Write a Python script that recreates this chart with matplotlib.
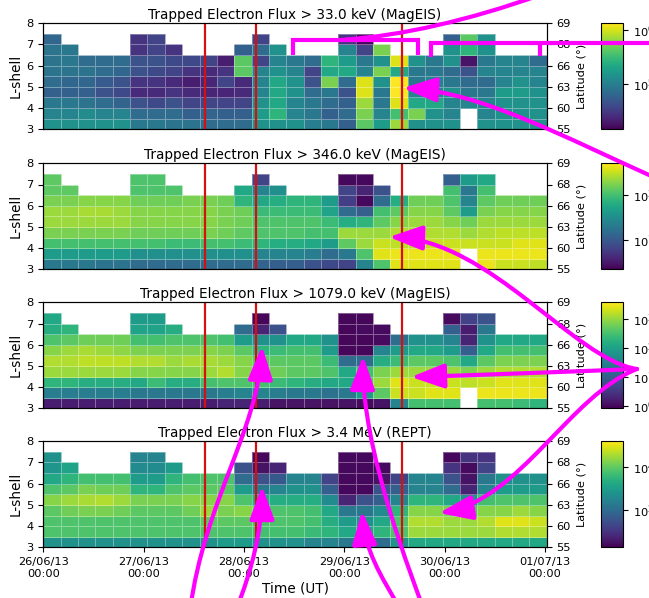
import numpy as np
import matplotlib
matplotlib.use("Agg")
import matplotlib.pyplot as plt
import matplotlib.dates as mdates
from matplotlib.colors import LogNorm
from matplotlib.path import Path
from matplotlib.patches import FancyArrowPatch, PathPatch
from datetime import datetime

nan = np.nan

# time binning: 29 bins from 26/06/13 00:00
t_start = datetime(2013, 6, 26)
t_stop = datetime(2013, 7, 1, 0, 25)
n_bins = 29
l_edges = np.arange(3.0, 8.0, 0.5)

# storm / event markers
events = [datetime(2013, 6, 27, 14, 40), datetime(2013, 6, 28, 2, 50), datetime(2013, 6, 29, 13, 45)]

titles = ["Trapped Electron Flux > 33.0 keV (MagEIS)",
          "Trapped Electron Flux > 346.0 keV (MagEIS)",
          "Trapped Electron Flux > 1079.0 keV (MagEIS)",
          "Trapped Electron Flux > 3.4 MeV (REPT)"]

# log10 flux, rows from L=3.0 upwards, one column per time bin
log_flux_33kev = np.array([
    [5.15,5.15,5.15,5.15,5.15,4.95,4.95,4.91,4.91,4.85,4.85,4.85,5.15,5.15,5.15,4.99,4.95,4.76,5.63,5.24,5.83,5.15,5.15,5.15,nan,5.15,5.15,5.15,5.15],
    [5.05,5.05,5.11,5.05,5.05,4.85,4.85,4.85,4.76,4.79,4.76,4.76,5.24,5.44,5.05,4.95,4.76,4.85,5.73,5.05,5.54,5.73,5.15,5.05,nan,5.05,5.15,5.15,5.15],
    [4.95,4.95,4.91,4.85,4.79,4.66,4.60,4.66,4.56,4.56,4.56,4.56,5.15,5.34,5.05,4.95,4.85,4.76,5.83,4.95,6.02,5.34,5.34,5.05,5.05,5.05,5.15,5.15,5.15],
    [4.76,4.76,4.76,4.66,4.60,4.40,4.40,4.46,4.40,4.37,4.37,4.40,5.05,5.34,5.15,4.85,4.95,4.66,6.02,4.95,6.12,5.05,5.05,5.15,4.95,4.95,5.24,5.24,5.15],
    [4.85,4.81,4.81,4.72,4.66,4.46,4.46,4.40,4.33,4.37,4.56,4.40,5.05,5.34,5.15,4.66,5.73,4.85,6.02,5.15,6.12,4.95,5.05,4.95,4.85,4.85,5.05,5.15,5.05],
    [4.91,4.91,4.91,4.85,4.81,4.66,4.60,4.56,4.46,4.40,4.46,5.63,5.05,5.15,5.05,4.56,5.34,5.34,5.05,5.73,5.34,4.95,4.95,4.85,4.66,5.05,5.05,5.05,5.05],
    [4.91,4.95,4.85,4.85,4.85,4.66,4.66,4.60,4.60,4.56,4.33,5.63,4.56,5.05,4.95,4.85,5.44,5.24,4.95,5.15,6.02,5.15,4.95,5.15,4.27,4.95,5.05,5.05,4.85],
    [4.91,4.95,nan,nan,nan,4.46,4.56,4.46,nan,nan,nan,4.76,4.85,5.15,nan,nan,nan,5.05,4.56,5.73,nan,nan,nan,5.15,5.44,5.15,nan,nan,nan],
    [4.81,nan,nan,nan,nan,4.46,4.56,nan,nan,nan,nan,nan,4.56,nan,nan,nan,nan,4.46,4.21,nan,nan,nan,nan,4.76,5.63,5.15,nan,nan,nan],
])

log_flux_346kev = np.array([
    [1.57,1.57,1.57,1.48,1.48,1.33,1.33,1.33,1.33,1.33,1.33,1.33,1.19,1.09,1.09,0.86,0.72,0.62,1.81,3.10,4.20,4.20,4.20,4.20,nan,4.30,4.06,4.06,3.96],
    [2.29,2.29,2.29,2.29,2.29,2.05,2.05,2.05,2.05,2.05,2.05,2.05,1.81,1.81,1.81,1.67,1.33,1.57,3.10,4.20,4.30,4.30,4.30,4.30,nan,4.30,4.30,4.30,4.30],
    [3.01,3.01,3.01,3.01,3.01,3.01,3.01,2.91,2.91,3.01,3.01,2.91,2.77,2.62,2.62,2.53,2.29,3.25,3.72,4.06,3.96,3.96,4.06,4.06,4.06,4.06,4.06,4.20,4.20],
    [3.48,3.48,3.48,3.48,3.48,3.39,3.39,3.39,3.39,3.48,3.39,3.25,3.10,3.10,3.10,3.01,3.01,3.72,3.72,3.72,3.87,3.87,3.87,3.87,3.72,3.87,3.96,3.96,3.96],
    [3.72,3.72,3.72,3.72,3.72,3.58,3.58,3.58,3.58,3.58,3.48,3.39,3.10,3.10,3.10,3.10,2.91,2.62,2.77,3.25,3.58,3.72,3.72,3.58,3.39,3.72,3.72,3.72,3.72],
    [3.72,3.72,3.82,3.82,3.72,3.58,3.58,3.58,3.58,3.58,3.48,3.39,2.91,2.91,2.91,2.91,2.43,1.33,1.09,3.01,3.25,3.58,3.58,3.25,2.29,3.48,3.58,3.58,3.58],
    [3.48,3.48,3.58,3.58,3.58,3.39,3.39,3.39,3.48,3.48,3.39,2.77,2.53,2.62,2.77,2.77,2.29,0.52,-0.24,1.33,2.62,3.39,3.39,3.10,1.81,3.25,3.39,3.39,3.39],
    [3.25,3.25,nan,nan,nan,3.10,3.10,3.10,nan,nan,nan,2.53,1.81,2.05,nan,nan,nan,0.62,0.14,0.86,nan,nan,nan,3.01,1.57,3.01,nan,nan,nan],
    [3.25,nan,nan,nan,nan,3.10,3.10,nan,nan,nan,nan,nan,0.62,nan,nan,nan,nan,-0.24,-0.24,nan,nan,nan,nan,1.09,2.29,2.53,nan,nan,nan],
])

log_flux_1079kev = np.array([
    [0.21,0.21,0.21,0.21,0.21,0.21,0.21,0.21,0.21,0.21,0.29,0.29,0.21,0.10,0.10,0.10,0.10,0.10,0.03,0.10,1.57,2.49,2.49,2.49,nan,2.49,2.49,2.42,2.31],
    [1.46,1.46,1.46,1.46,1.46,1.39,1.39,1.39,1.39,1.39,1.46,1.57,1.57,1.46,1.39,1.39,1.31,1.39,1.94,2.67,3.30,3.30,3.41,3.41,nan,3.48,3.48,3.48,3.48],
    [2.31,2.31,2.20,2.20,2.20,2.12,2.42,2.20,2.20,2.49,2.56,2.56,2.49,2.42,2.31,2.20,2.12,2.12,2.56,3.04,3.41,3.30,3.30,3.30,3.22,3.30,3.41,3.41,3.41],
    [3.04,3.04,3.04,3.04,3.04,2.93,2.93,2.93,2.93,3.04,3.15,2.93,2.86,2.78,2.67,2.67,2.56,2.12,2.49,2.86,3.04,3.04,3.04,3.04,2.86,3.04,3.15,3.15,3.15],
    [3.15,3.15,3.22,3.22,3.22,3.15,3.15,3.04,3.11,3.11,3.04,2.93,2.67,2.67,2.67,2.67,2.42,1.20,1.20,2.20,2.42,2.67,2.67,2.56,2.12,2.67,2.86,2.86,2.86],
    [2.93,3.04,3.11,3.04,2.97,2.86,2.86,2.86,2.86,2.93,2.86,2.67,2.31,2.42,2.49,2.49,1.94,-0.01,-0.01,1.57,1.94,2.12,2.12,1.94,1.02,2.12,2.49,2.49,2.49],
    [2.56,2.67,2.78,2.78,2.78,2.49,2.49,2.56,2.56,2.56,2.49,1.94,1.76,1.76,2.12,2.12,1.76,-0.01,-0.01,0.03,1.20,1.76,1.76,1.57,0.29,1.76,2.12,2.12,2.12],
    [2.20,2.31,nan,nan,nan,2.05,2.05,2.20,nan,nan,nan,1.20,0.29,0.84,nan,nan,nan,-0.01,0.03,0.03,nan,nan,nan,1.02,0.21,1.39,nan,nan,nan],
    [2.12,nan,nan,nan,nan,1.94,1.94,nan,nan,nan,nan,nan,-0.01,nan,nan,nan,nan,-0.01,-0.01,nan,nan,nan,nan,0.03,0.65,0.84,nan,nan,nan],
])

log_flux_3p4mev = np.array([
    [2.74,2.74,2.74,2.74,2.74,2.74,2.74,2.74,2.74,2.74,2.98,2.98,2.74,2.74,2.74,2.49,2.49,2.25,2.01,2.01,2.74,3.22,3.22,3.22,3.22,3.22,3.22,3.22,3.22],
    [3.80,3.80,3.80,3.80,3.80,3.80,3.80,3.80,3.80,3.80,3.80,3.80,3.70,3.70,3.70,3.60,3.46,3.22,3.12,3.46,3.80,4.43,4.43,4.43,4.43,4.43,4.57,4.57,4.57],
    [3.80,3.80,3.80,3.80,3.80,3.80,3.80,3.80,3.80,3.94,3.94,3.94,3.80,3.80,3.80,3.70,3.31,2.98,2.74,3.22,3.80,4.57,4.57,4.43,4.43,4.57,4.91,4.91,4.76],
    [3.94,4.09,4.18,4.18,4.09,3.94,3.94,3.94,4.09,4.43,4.18,4.28,4.09,3.80,3.80,3.70,3.22,2.25,2.25,2.64,3.46,4.28,4.28,4.18,3.80,4.28,4.28,4.43,4.28],
    [4.28,4.43,4.52,4.57,4.43,4.18,4.18,4.18,4.28,4.28,4.28,3.80,3.31,3.31,3.31,3.31,2.64,0.80,1.53,1.77,2.49,3.46,3.46,3.22,2.74,3.70,3.80,3.80,3.80],
    [3.80,3.94,4.18,4.09,4.09,3.46,3.46,3.80,3.94,3.94,3.94,2.98,2.25,2.49,2.74,2.74,1.77,0.42,0.42,1.53,1.77,2.49,2.49,2.01,0.80,2.49,2.98,2.98,2.98],
    [3.22,3.46,3.70,3.70,3.70,2.98,2.98,3.46,3.70,3.80,3.80,2.01,1.53,1.67,2.49,2.49,1.29,0.42,0.42,0.56,1.29,2.49,2.49,1.53,0.56,2.25,2.74,2.74,2.74],
    [2.83,3.12,nan,nan,nan,2.64,2.64,2.98,nan,nan,nan,1.53,0.56,0.80,nan,nan,nan,0.42,0.42,0.46,nan,nan,nan,1.04,0.46,1.29,nan,nan,nan],
    [2.74,nan,nan,nan,nan,2.49,2.49,nan,nan,nan,nan,nan,0.42,nan,nan,nan,nan,0.42,0.42,nan,nan,nan,nan,0.42,1.04,1.04,nan,nan,nan],
])

log_flux = [log_flux_33kev, log_flux_346kev, log_flux_1079kev, log_flux_3p4mev]
flux_range = [(10**4.17, 10**6.12), (10**-0.34, 10**4.44), (10**-0.08, 10**3.59), (10**0.32, 10**5.15)]
cbar_ticks = [[1e5, 1e6], [1e1, 1e3], [1e0, 1e1, 1e2, 1e3], [1e2, 1e4]]

# invariant latitude for the right hand axis
l_ticks = np.arange(3, 9)
lat_labels = [f"{v:.0f}" for v in np.degrees(np.arccos(np.sqrt(1.0 / l_ticks)))]

W, H = 649, 598
plt.rcParams["font.size"] = 8.2
fig = plt.figure(figsize=(W / 100, H / 100), dpi=100)

t_edges = [t_start + (t_stop - t_start) * k / n_bins for k in range(n_bins + 1)]
panel_top = [23.3, 163.3, 302.3, 441.3]
panel_h = 106

axes = []
for i in range(4):
    y0 = 1 - (panel_top[i] + panel_h) / H
    ax = fig.add_axes([43.3 / W, y0, 503.4 / W, panel_h / H])
    vmin, vmax = flux_range[i]
    mesh = ax.pcolormesh(t_edges, l_edges, np.ma.masked_invalid(10 ** log_flux[i]),
                         norm=LogNorm(vmin=vmin, vmax=vmax), cmap="viridis",
                         edgecolors=(1, 1, 1, 0.35), linewidth=0.6)
    for ev in events:
        ax.axvline(ev, color="#d41010", lw=1.6)
    ax.set_xlim(t_edges[0], t_edges[-1])
    ax.set_ylim(3, 8)
    ax.set_yticks(l_ticks)
    ax.set_ylabel("L-shell", fontsize=9.8, labelpad=3)
    ax.set_title(titles[i], fontsize=9.8, pad=3)
    ax.xaxis.set_major_locator(mdates.DayLocator())
    ax.xaxis.set_major_formatter(mdates.DateFormatter("%d/%m/%y\n%H:%M"))
    if i < 3:
        ax.tick_params(axis="x", bottom=False, labelbottom=False)

    ax2 = ax.twinx()
    ax2.set_ylim(3, 8)
    ax2.set_yticks(l_ticks)
    ax2.set_yticklabels(lat_labels)
    ax2.set_ylabel("Latitude (°)", fontsize=8.2)

    cax = fig.add_axes([601 / W, y0, 22 / W, panel_h / H])
    cb = fig.colorbar(mesh, cax=cax, ticks=cbar_ticks[i])
    cb.ax.minorticks_off()
    axes.append(ax)

axes[-1].set_xlabel("Time (UT)", fontsize=9.8, labelpad=2)

# magenta annotation layer, in pixel coordinates
ov = fig.add_axes([0, 0, 1, 1])
ov.set_xlim(0, W)
ov.set_ylim(H, 0)
ov.axis("off")
ov.set_zorder(10)
MAG = "#ff00ff"


def line(pts):
    codes = [Path.MOVETO] + [Path.LINETO] * (len(pts) - 1)
    ov.add_patch(PathPatch(Path(pts, codes), fill=False, ec=MAG, lw=3, capstyle="butt", joinstyle="miter"))


def bezier(pts, arrow=True):
    p = Path(pts, [Path.MOVETO, Path.CURVE4, Path.CURVE4, Path.CURVE4])
    if arrow:
        ov.add_patch(FancyArrowPatch(path=p, arrowstyle="-|>,head_length=1.35,head_width=0.5",
                                     mutation_scale=15, color=MAG, lw=3))
    else:
        ov.add_patch(PathPatch(p, fill=False, ec=MAG, lw=3))


# brackets over the 33 keV panel
line([(293, 55), (293, 39.5), (418, 39.5), (418, 55)])
line([(431, 57), (431, 42.5), (660, 42.5)])
line([(540, 42.5), (540, 56)])
bezier([(345, 39.5), (400, 36), (470, 20), (540, -5)], arrow=False)

# arrows coming in from the right
bezier([(660, 180), (560, 135), (480, 92), (403, 88)])
bezier([(637, 369), (575, 360), (490, 240), (389, 237)])
bezier([(637, 369), (560, 372), (480, 375), (411, 377)])
bezier([(637, 369), (570, 395), (520, 500), (439, 513)])

# arrows coming up from the bottom
bezier([(190, 610), (205, 500), (258, 430), (262, 346)])
bezier([(236, 610), (252, 570), (262, 530), (262, 486)])
bezier([(424, 610), (390, 520), (362, 430), (363, 356)])
bezier([(401, 610), (380, 575), (365, 550), (362, 511)])

fig.savefig("out.png", dpi=100)
